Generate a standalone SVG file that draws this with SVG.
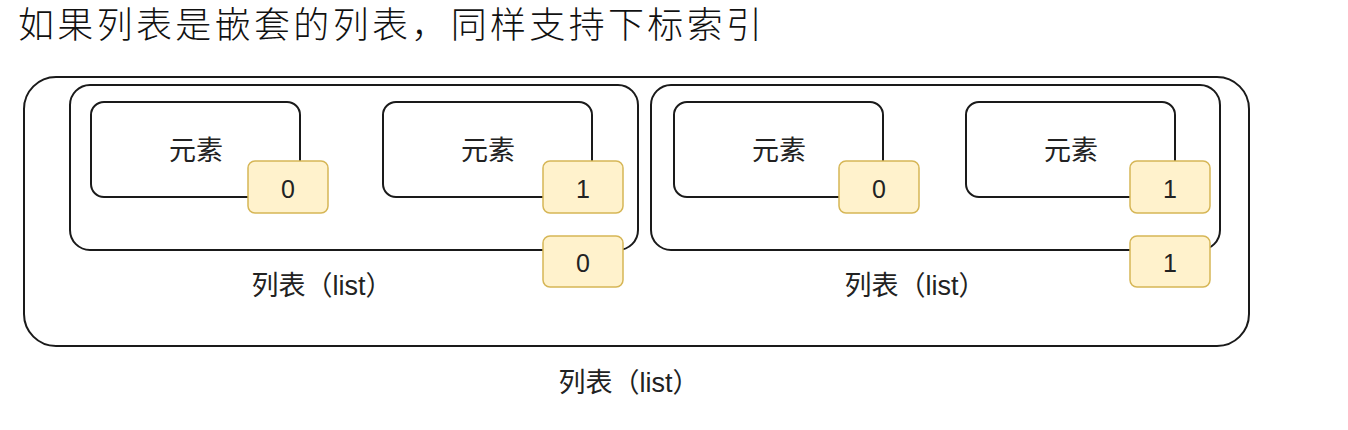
<svg xmlns="http://www.w3.org/2000/svg" width="1348" height="430" viewBox="0 0 1348 430">
<style>
.box{fill:#fff;stroke:#1a1a1a;stroke-width:2}
.idx{fill:#fff2cc;stroke:#d6b656;stroke-width:1.5}
.t{font-family:"Liberation Sans","Noto Sans CJK SC",sans-serif;font-size:27px;fill:#222;text-anchor:middle}
.d{font-family:"Liberation Sans",Arial,sans-serif;font-size:25px;fill:#222;text-anchor:middle}
.title{font-family:"Noto Sans CJK SC",sans-serif;font-size:36px;font-weight:300;fill:#111}
</style>
<rect width="1348" height="430" fill="#fff"/>
<text class="title" x="18" y="38" textLength="744" lengthAdjust="spacing">如果列表是嵌套的列表，同样支持下标索引</text>
<g id="outer-list">
<rect class="box" x="24" y="77" width="1225" height="269" rx="32" ry="32"/>
<text class="t" x="629" y="392">列表（list）</text>
</g>
<g id="list-0">
<rect class="box" x="70" y="85" width="568" height="165" rx="20" ry="20"/>
<text class="t" x="322" y="295">列表（list）</text>
</g>
<g id="list-1">
<rect class="box" x="651" y="85" width="569" height="165" rx="20" ry="20"/>
<text class="t" x="915" y="295">列表（list）</text>
</g>
<g id="elem-0-0">
<rect class="box" x="91" y="102" width="209" height="95" rx="13" ry="13"/>
<text class="t" x="196" y="160">元素</text>
</g>
<g id="elem-0-1">
<rect class="box" x="383" y="102" width="209" height="95" rx="13" ry="13"/>
<text class="t" x="488" y="160">元素</text>
</g>
<g id="elem-1-0">
<rect class="box" x="674" y="102" width="209" height="95" rx="13" ry="13"/>
<text class="t" x="779" y="160">元素</text>
</g>
<g id="elem-1-1">
<rect class="box" x="966" y="102" width="209" height="95" rx="13" ry="13"/>
<text class="t" x="1071" y="160">元素</text>
</g>
<g id="idx-0-0">
<rect class="idx" x="248" y="161" width="80" height="52" rx="7" ry="7"/>
<text class="d" x="288" y="198">0</text>
</g>
<g id="idx-0-1">
<rect class="idx" x="543" y="161" width="80" height="52" rx="7" ry="7"/>
<text class="d" x="583" y="198">1</text>
</g>
<g id="idx-1-0">
<rect class="idx" x="839" y="161" width="80" height="52" rx="7" ry="7"/>
<text class="d" x="879" y="198">0</text>
</g>
<g id="idx-1-1">
<rect class="idx" x="1130" y="161" width="80" height="52" rx="7" ry="7"/>
<text class="d" x="1170" y="198">1</text>
</g>
<g id="idx-list-0">
<rect class="idx" x="543" y="236" width="80" height="51" rx="7" ry="7"/>
<text class="d" x="583" y="272">0</text>
</g>
<g id="idx-list-1">
<rect class="idx" x="1130" y="236" width="80" height="51" rx="7" ry="7"/>
<text class="d" x="1170" y="272">1</text>
</g>
<g id="connectors"></g>
</svg>
